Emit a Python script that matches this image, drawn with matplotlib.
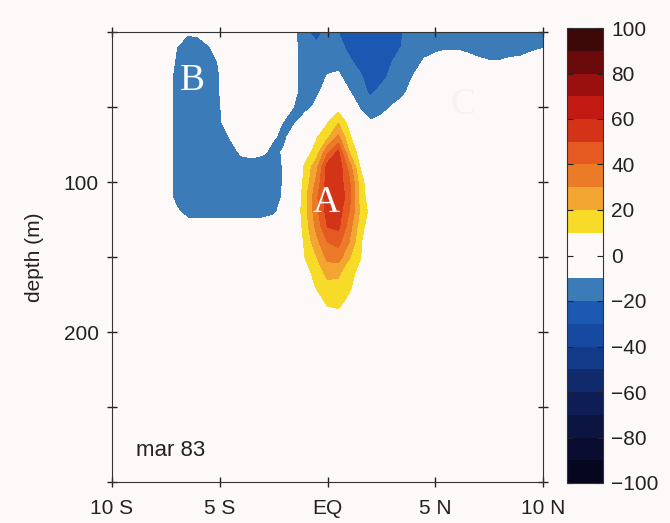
#------
# Seccion ecuatorial de anomalia (mar 83): latitud vs profundidad
# Campo leido a ojo sobre una malla de 0.5 grados x 10 m
#------

import numpy as np
import matplotlib
matplotlib.use("Agg")
import matplotlib.pyplot as plt

#------ Datos
lat = np.arange(-10, 10.01, 0.5)  # 41 columnas, de 10 S a 10 N
depth = [0, 10, 20, 30, 40, 50, 60, 70, 80, 90, 100,
         110, 120, 130, 140, 150, 160, 170, 180, 190, 200, 300]

Z = [0]*5  # relleno de ceros para las columnas 10S-8S

anom = [
    # depth 0
    Z + [0, -3, -8, -6, -2, 0, 0, 0, 0, 0, 0, 0, -9, -19, -23, -17, -20, -27, -28, -28, -28, -26, -20] + [-18]*13,
    # depth 10
    Z + [0, -10, -18, -18, -11, -1, 0, 0, 0, 0, 0, 0, -8, -18, -18, -18, -16, -23, -27, -28, -28, -25, -19,
         -18, -16, -14, -12, -12, -14, -17, -18, -18, -17, -16, -13, -11],
    # depth 20
    Z + [-2, -12, -18, -18, -18, -8, 0, 0, 0, 0, 0, 0, -8, -18, -18, -15, -15, -18, -24, -28, -26, -20, -18,
         -16, -8, -4, -2, -2, -4, -7, -9, -9, -7, -6, -3, -1],
    # depth 30
    Z + [-4, -14, -18, -18, -18, -10, 0, 0, 0, 0, 0, 0, -8, -18, -17, -9, -7, -17, -18, -26, -22, -18, -18,
         -9, -2] + [0]*11,
    # depth 40
    Z + [-4, -14, -18, -18, -18, -10, 0, 0, 0, 0, 0, 0, -8, -18, -13, -3, 0, -9, -18, -21, -18, -18, -13,
         -3] + [0]*12,
    # depth 50
    Z + [-4, -14, -18, -18, -18, -11, -1, 0, 0, 0, 0, 0, -12, -15, -6, 0, 5, -1, -11, -17, -15, -9, -4] + [0]*13,
    # depth 60
    Z + [-4, -14, -18, -18, -18, -12, -2, 0, 0, 0, -1, -12, -11, 0, 0, 9, 19, 6, -3, -9, -6, -2, 0] + [0]*13,
    # depth 70
    Z + [-4, -14, -18, -18, -18, -18, -9, 0, 0, -3, -9, -13, 0, 0, 9, 18, 32, 12, 0] + [0]*17,
    # depth 80
    Z + [-4, -14, -18, -18, -18, -18, -15, -8, -6, -8, -14, -8, 0, 5, 15, 38, 52, 20, 5] + [0]*17,
    # depth 90
    Z + [-4, -14, -18, -18, -18, -18, -18, -16, -16, -18, -18, -8, 0, 13, 27, 55, 57, 36, 10] + [0]*17,
    # depth 100
    Z + [-4, -14, -18, -18, -18, -18, -18, -18, -18, -18, -18, -8, 0, 14, 33, 55, 56, 42, 16] + [0]*17,
    # depth 110
    Z + [-4, -14, -18, -18, -18, -18, -18, -18, -18, -18, -18, -7, 0, 18, 38, 56, 57, 45, 17, 3] + [0]*16,
    # depth 120
    Z + [-3, -8, -14, -14, -14, -14, -14, -14, -14, -14, -12, -5, 2, 17, 37, 54, 55, 40, 19, 6] + [0]*16,
    # depth 130
    Z + [0, -2, -4, -4, -4, -4, -4, -4, -4, -4, -2, 0, 0, 16, 33, 50, 52, 35, 15, 3] + [0]*16,
    # depth 140
    Z + [0]*13 + [13, 27, 40, 43, 30, 12, 0] + [0]*16,
    # depth 150
    Z + [0]*13 + [11, 20, 33, 35, 21, 11, 0] + [0]*16,
    # depth 160
    Z + [0]*13 + [6, 15, 23, 22, 14, 7, 0] + [0]*16,
    # depth 170
    Z + [0]*13 + [2, 11, 17, 17, 12, 3, 0] + [0]*16,
    # depth 180
    Z + [0]*13 + [0, 4, 12, 13, 7, 0, 0] + [0]*16,
    # depth 190
    Z + [0]*13 + [0, 0, 5, 6, 0, 0, 0] + [0]*16,
    # depth 200
    [0]*41,
    # depth 300
    [0]*41,
]
anom = np.array(anom, dtype=float)

levels = np.arange(-100, 101, 10)
band_colors = ['#07061f', '#0a0c30', '#0c1440', '#0e1d55', '#102a6c',
               '#123a88', '#164aa0', '#1b58b2', '#3b7cb8', '#fdf9f8',
               '#fdf9f8', '#f6dc28', '#f2a531', '#ec7b28', '#e45a20',
               '#d33417', '#c21a12', '#9a100e', '#6a0a0a', '#3c0808']

xticks = [-10, -5, 0, 5, 10]
xlabels = ['10 S', '5 S', 'EQ', '5 N', '10 N']
yticks = [0, 50, 100, 150, 200, 250, 300]
ylabels = ['', '', '100', '', '200', '', '']
cticks = list(range(-100, 101, 20))

# letras sobre el campo (lat, depth)
marks = [('A', -0.05, 120), ('B', -6.25, 39), ('C', 6.3, 55)]

#------ Grafica
plt.rcParams['font.family'] = ['Liberation Sans', 'DejaVu Sans']
bg = '#fdf9f8'

fig = plt.figure(figsize=(6.7, 5.23), dpi=100, facecolor=bg)
ax = fig.add_axes([112/670, 1-482/523, 431/670, 450/523])
ax.set_facecolor(bg)

cs = ax.contourf(lat, depth, anom, levels=levels, colors=band_colors)

ax.set_xlim(-10, 10)
ax.set_ylim(300, 0)
ax.set_xticks(xticks)
ax.set_xticklabels(xlabels)
ax.set_yticks(yticks)
ax.set_yticklabels(ylabels)
ax.tick_params(direction='inout', length=7, width=1, top=True, right=True,
               labelsize=15, colors='#222222')
ax.tick_params(axis='x', pad=9)
ax.tick_params(axis='y', pad=6)
ax.set_ylabel('depth (m)', fontsize=15, color='#222222', labelpad=14)
for s in ax.spines.values():
    s.set_color('#333333')

for txt, x, y in marks:
    c = 'white' if txt != 'C' else '#f6f2f2'  # la C casi no se ve
    ax.text(x, y, txt, color=c, fontsize=27, family='Liberation Serif',
            ha='center', va='baseline')

ax.text(-8.9, 283, 'mar 83', fontsize=16, color='#222222', ha='left', va='baseline')

cax = fig.add_axes([567/670, 1-483/523, 36/670, 455/523])
cb = fig.colorbar(cs, cax=cax, ticks=cticks)
cb.ax.tick_params(direction='in', length=4, left=True, right=True,
                  labelsize=15, colors='#222222', pad=6)
cb.outline.set_edgecolor('#333333')

fig.savefig('out.png', dpi=100, facecolor=bg)
